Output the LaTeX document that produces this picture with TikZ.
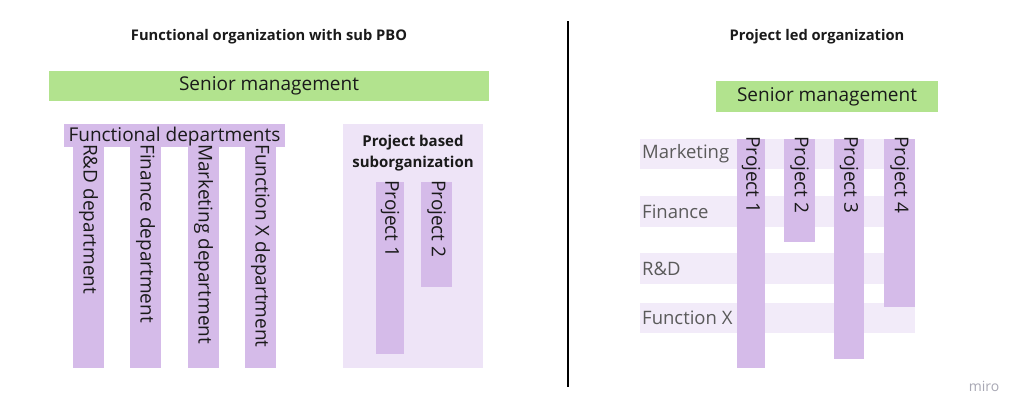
\documentclass[tikz,border=0pt]{standalone}
\usepackage{fontspec}
\setmainfont{Open Sans}
\usetikzlibrary{fit}
\definecolor{sgreen}{HTML}{B2E38E}
\definecolor{colv}{HTML}{D5BBE9}
\definecolor{pbov}{HTML}{EEE4F7}
\definecolor{rowv}{HTML}{F2EBF9}
\definecolor{txt}{HTML}{1A1A1A}
\definecolor{rowtxt}{HTML}{5A5A5A}
\definecolor{mirotxt}{HTML}{A8A8B4}
\tikzset{
  area/.style={inner sep=0pt, outer sep=0pt, draw=none},
  greenbox/.style={area, fill=sgreen},
  colbox/.style={area, fill=colv},
  pbobox/.style={area, fill=pbov},
  rowbox/.style={area, fill=rowv},
  bigtext/.style={inner sep=0pt, text=txt, font=\fontsize{19}{22}\selectfont},
  vtext/.style={bigtext, rotate=-90, anchor=west},
  rowlabel/.style={inner sep=0pt, anchor=west, text=rowtxt, font=\fontsize{18.5}{22}\selectfont},
  titletext/.style={inner sep=0pt, text=txt, font=\fontsize{14.7}{17}\selectfont\bfseries},
}
\begin{document}
\begin{tikzpicture}[x=1pt,y=-1pt]
\useasboundingbox[fill=white] (0,0) rectangle (1024,415);

% ---------- left panel ----------
\node[titletext] (ltitle) at (269,37) {Functional organization with sub PBO};
\node[greenbox, fit={(49,71)(489,101)}] (lsm) {};
\node[bigtext] (lsmt) at (lsm.center) {Senior management};

\node[colbox, fit={(64,124)(285,147)}] (fd) {};
\node[bigtext] (fdt) at ([yshift=-1pt]fd.center) {Functional departments};

\node[colbox, fit={(73,147)(104,368)}] (rd) {};
\node[colbox, fit={(130,147)(161,368)}] (fin) {};
\node[colbox, fit={(188,147)(219,368)}] (mkt) {};
\node[colbox, fit={(245,147)(276,368)}] (fx) {};
\node[vtext] (rdt) at ([yshift=3pt]rd.north) {R\&D department};
\node[vtext] (fint) at ([yshift=3pt]fin.north) {Finance department};
\node[vtext] (mktt) at ([yshift=3pt]mkt.north) {Marketing department};
\node[vtext] (fxt) at ([yshift=3pt]fx.north) {Function X department};

\node[pbobox, fit={(343,124)(483,368)}] (pbo) {};
\node[titletext, align=center, font=\fontsize{15}{21}\selectfont\bfseries] (pbot) at (413,153.5) {Project based\\suborganization};
\node[colbox, fit={(376,182)(404,354)}] (lp1) {};
\node[colbox, fit={(421,182)(452,287)}] (lp2) {};
\node[vtext] (lp1t) at ([yshift=2pt]lp1.north) {Project 1};
\node[vtext] (lp2t) at ([yshift=2pt]lp2.north) {Project 2};

% ---------- divider ----------
\coordinate (dtop) at (568,21);
\coordinate (dbot) at (568,387);
\draw[line width=1.2pt, black] (dtop) -- (dbot);

% ---------- right panel ----------
\node[titletext] (rtitle) at (817,37) {Project led organization};
\node[greenbox, fit={(716,81)(938,112)}] (rsm) {};
\node[bigtext] (rsmt) at (rsm.center) {Senior management};

\node[rowbox, fit={(640,139)(915,169)}] (rmk) {};
\node[rowbox, fit={(640,196)(915,227)}] (rfi) {};
\node[rowbox, fit={(640,253)(915,284)}] (rrd) {};
\node[rowbox, fit={(640,303)(915,333)}] (rfx) {};
\node[rowlabel] (rmkt) at ([xshift=2pt]rmk.west) {Marketing};
\node[rowlabel] (rfit) at ([xshift=2pt]rfi.west) {Finance};
\node[rowlabel] (rrdt) at ([xshift=2pt]rrd.west) {R\&D};
\node[rowlabel] (rfxt) at ([xshift=2pt]rfx.west) {Function X};

\node[colbox, fit={(737,139)(765,368)}] (rp1) {};
\node[colbox, fit={(784,139)(815,242)}] (rp2) {};
\node[colbox, fit={(834,139)(864,359)}] (rp3) {};
\node[colbox, fit={(884,139)(915,307)}] (rp4) {};
\node[vtext] (rp1t) at ([yshift=3pt]rp1.north) {Project 1};
\node[vtext] (rp2t) at ([yshift=3pt]rp2.north) {Project 2};
\node[vtext] (rp3t) at ([yshift=3pt]rp3.north) {Project 3};
\node[vtext] (rp4t) at ([yshift=3pt]rp4.north) {Project 4};

\node[inner sep=0pt, text=mirotxt, font=\fontsize{14}{16}\selectfont] (miro) at (984,386) {miro};
\end{tikzpicture}
\end{document}
